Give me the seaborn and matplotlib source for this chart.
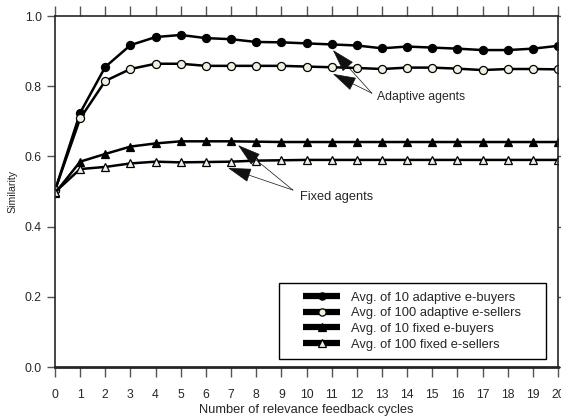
import pandas as pd
import seaborn as sns
import matplotlib.pyplot as plt
from matplotlib.patches import Rectangle

# Values
cycles = list(range(21))
adaptive_buyers = [0.503, 0.724, 0.855, 0.917, 0.940, 0.946, 0.937, 0.934, 0.926, 0.925, 0.922,
                   0.919, 0.916, 0.908, 0.913, 0.910, 0.907, 0.903, 0.903, 0.907, 0.915]
adaptive_sellers = [0.503, 0.708, 0.815, 0.849, 0.864, 0.864, 0.858, 0.858, 0.858, 0.858, 0.856,
                    0.854, 0.852, 0.849, 0.853, 0.853, 0.850, 0.846, 0.849, 0.849, 0.848]
fixed_buyers = [0.495, 0.585, 0.607, 0.628, 0.637, 0.643, 0.643, 0.643, 0.642, 0.641, 0.641,
                0.641, 0.641, 0.641, 0.641, 0.641, 0.641, 0.641, 0.641, 0.641, 0.641]
fixed_sellers = [0.498, 0.564, 0.570, 0.580, 0.585, 0.583, 0.584, 0.585, 0.588, 0.589, 0.590,
                 0.590, 0.590, 0.590, 0.590, 0.590, 0.590, 0.590, 0.590, 0.590, 0.590]

series = {
    "Avg. of 10 adaptive e-buyers": (adaptive_buyers, "o", "black"),
    "Avg. of 100 adaptive e-sellers": (adaptive_sellers, "o", "#f0f0e2"),
    "Avg. of 10 fixed e-buyers": (fixed_buyers, "^", "black"),
    "Avg. of 100 fixed e-sellers": (fixed_sellers, "^", "#f0f0e2"),
}

sns.set_theme(style="ticks")
plt.rcParams["font.family"] = ["Liberation Sans", "DejaVu Sans"]

fig = plt.figure(figsize=(5.61, 4.18), dpi=100)
ax = fig.add_axes([0.098, 0.122, 0.8967, 0.8397])

for name, (vals, mk, fc) in series.items():
    df = pd.DataFrame({"cycle": cycles, "sim": vals})
    sns.lineplot(data=df, x="cycle", y="sim", ax=ax, color="black", lw=1.8,
                 marker=mk, markersize=5.8, markerfacecolor=fc,
                 markeredgecolor="black", markeredgewidth=0.9, label=name)

ax.set_xlim(0, 20)
ax.set_ylim(0, 1)
ax.set_xticks(cycles)
ax.set_yticks([0.0, 0.2, 0.4, 0.6, 0.8, 1.0])
ax.set_yticklabels(["0.0", "0.2", "0.4", "0.6", "0.8", "1.0"])
ax.tick_params(axis="both", direction="out", length=5.5, width=1, color="#555555",
               labelsize=8.8, pad=4, top=True, right=True, labeltop=False, labelright=False)
ax.tick_params(axis="x", length=7, pad=8.5)
for side in ["left", "right", "top"]:
    ax.spines[side].set_linewidth(1.2)
ax.spines["bottom"].set_linewidth(2)
ax.set_xlabel("Number of relevance feedback cycles", fontsize=9.3, labelpad=2.5)
ax.set_ylabel("Similarity", fontsize=7.6, labelpad=5)

arrow = dict(arrowstyle="-|>,head_length=1.0,head_width=0.3", mutation_scale=15,
             color="#111111", lw=0.5, shrinkA=0, shrinkB=0)
for tip in [(11.05, 0.903), (11.05, 0.835)]:
    ax.annotate("", xy=tip, xytext=(12.6, 0.78), arrowprops=arrow)
ax.text(12.8, 0.77, "Adaptive agents", fontsize=8.8, va="center", ha="left")
for tip in [(7.28, 0.632), (6.88, 0.567)]:
    ax.annotate("", xy=tip, xytext=(9.46, 0.504), arrowprops=arrow)
ax.text(9.74, 0.485, "Fixed agents", fontsize=9.2, va="center", ha="left")

# legend box drawn separately so the entries sit centred in a wider frame
box = (0.445, 0.023, 0.531, 0.216)
ax.add_patch(Rectangle(box[:2], box[2], box[3], transform=ax.transAxes,
                       facecolor="white", edgecolor="black", lw=1, zorder=3))
leg = ax.legend(loc="center", bbox_to_anchor=(box[0] + box[2] / 2, box[1] + box[3] / 2),
                fontsize=9.3, frameon=False, handlelength=2.85, handletextpad=0.85,
                labelspacing=0.28, borderpad=0, borderaxespad=0)
leg.set_zorder(4)
for h in leg.legend_handles:
    h.set_linewidth(4.5)
    h.set_solid_capstyle("butt")
    h.set_markersize(5.2)

fig.savefig("out.png", dpi=100)
